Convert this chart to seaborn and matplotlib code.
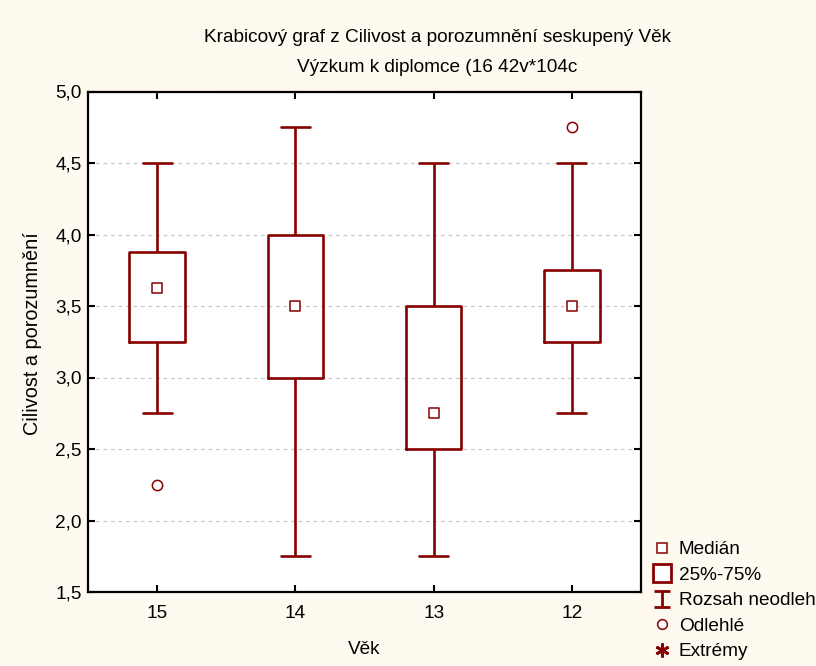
import numpy as np
import pandas as pd
import matplotlib
matplotlib.use("Agg")
import matplotlib.pyplot as plt
from matplotlib.lines import Line2D
from matplotlib.path import Path
import seaborn as sns

# ---- data ----
groups = ["15", "14", "13", "12"]
whisker_low = [2.75, 1.75, 1.75, 2.75]
q1 = [3.25, 3.0, 2.5, 3.25]
median = [3.625, 3.5, 2.75, 3.5]
q3 = [3.875, 4.0, 3.5, 3.75]
whisker_high = [4.5, 4.75, 4.5, 4.5]
outlier_groups = ["15", "12"]
outlier_values = [2.25, 4.75]

title_line1 = "Krabicový graf z Cilivost a porozumnění seskupený Věk"
title_line2 = "Výzkum k diplomce (16 42v*104c"
x_label = "Věk"
y_label = "Cilivost a porozumnění"
y_ticks = [1.5, 2.0, 2.5, 3.0, 3.5, 4.0, 4.5, 5.0]
legend_labels = ["Medián", "25%-75%", "Rozsah neodleh", "Odlehlé", "Extrémy"]

# ---- styling ----
RED = "#860000"
BG = "#FFFAEF"
FS = 13.7
sns.set_theme(style="white")
plt.rcParams["font.family"] = ["Liberation Sans", "DejaVu Sans"]
plt.rcParams["text.color"] = "black"
plt.rcParams["axes.labelcolor"] = "black"
plt.rcParams["xtick.color"] = "black"
plt.rcParams["ytick.color"] = "black"

# long-form five-number summary (each group's 5 values give exactly these quartiles)
rows = []
for g, a, b, c, d, e in zip(groups, whisker_low, q1, median, q3, whisker_high):
    for v in (a, b, c, d, e):
        rows.append({"Věk": g, "val": v})
df = pd.DataFrame(rows)

fig = plt.figure(figsize=(8.16, 6.66), dpi=100, facecolor=BG)
ax = fig.add_axes([88 / 816, 1 - 592 / 666, (641 - 88) / 816, (592 - 91.5) / 666])
ax.set_facecolor("white")

lw = 1.9
sns.boxplot(
    data=df, x="Věk", y="val", order=groups, ax=ax,
    whis=np.inf, width=0.4, fill=False, color=RED, linewidth=lw,
    showfliers=False, capwidths=0.21,
    boxprops=dict(color=RED, linewidth=lw),
    whiskerprops=dict(color=RED, linewidth=lw),
    capprops=dict(color=RED, linewidth=lw),
    medianprops=dict(visible=False),
)

med_df = pd.DataFrame({"Věk": groups, "val": median})
sns.scatterplot(data=med_df, x="Věk", y="val", ax=ax, marker="s", s=48,
                facecolor="white", edgecolor=RED, linewidth=1.1, zorder=5)
out_df = pd.DataFrame({"Věk": outlier_groups, "val": outlier_values})
sns.scatterplot(data=out_df, x="Věk", y="val", ax=ax, marker="o", s=55,
                facecolor="white", edgecolor=RED, linewidth=1.1, zorder=5)

ax.set_xlim(-0.5, 3.5)
ax.set_ylim(1.5, 5.0)
ax.set_yticks(y_ticks)
ax.set_yticklabels([f"{t:.1f}".replace(".", ",") for t in y_ticks])
ax.set_xticks(range(len(groups)))
ax.set_xticklabels(groups)
ax.set_xlabel("")
ax.set_ylabel("")
ax.yaxis.grid(True, color="#C8C8C8", linestyle=(0, (3, 3)), linewidth=0.9)
ax.xaxis.grid(False)
ax.set_axisbelow(True)
for sp in ax.spines.values():
    sp.set_visible(True)
    sp.set_color("black")
    sp.set_linewidth(1.6)
ax.tick_params(axis="both", direction="in", length=5, width=1.5, colors="black",
               labelcolor="black", labelsize=FS, top=True, right=True,
               bottom=True, left=True)
ax.tick_params(axis="y", pad=4.5)
ax.tick_params(axis="x", pad=9)

fig.text(437.5 / 816, 1 - 38 / 666, title_line1, ha="center", va="center", fontsize=FS)
fig.text(437.5 / 816, 1 - 67 / 666, title_line2, ha="center", va="center", fontsize=FS)
fig.text(364 / 816, 1 - 650 / 666, x_label, ha="center", va="center", fontsize=FS)
fig.text(33 / 816, 1 - 334 / 666, y_label, ha="center", va="center", rotation=90,
         fontsize=14.3)

ibeam = Path([(-1, 1), (1, 1), (0, 1), (0, -1), (-1, -1), (1, -1)],
             [Path.MOVETO, Path.LINETO, Path.MOVETO, Path.LINETO, Path.MOVETO, Path.LINETO])
handles = [
    Line2D([], [], linestyle="none", marker="s", markersize=7, markerfacecolor="white",
           markeredgecolor=RED, markeredgewidth=1.1),
    Line2D([], [], linestyle="none", marker="s", markersize=12.5, markerfacecolor="white",
           markeredgecolor=RED, markeredgewidth=2),
    Line2D([], [], linestyle="none", marker=ibeam, markersize=12, markerfacecolor="none",
           markeredgecolor=RED, markeredgewidth=2),
    Line2D([], [], linestyle="none", marker="o", markersize=7, markerfacecolor="white",
           markeredgecolor=RED, markeredgewidth=1.1),
    Line2D([], [], linestyle="none", marker=(6, 2, 0), markersize=10,
           markeredgecolor=RED, markeredgewidth=2),
]
leg = fig.legend(handles, legend_labels, loc="upper left",
                 bbox_to_anchor=(652 / 816, 1 - 541 / 666), frameon=False,
                 fontsize=FS, handlelength=1.0, handletextpad=0.4,
                 labelspacing=0.43, borderpad=0, borderaxespad=0)
for t in leg.get_texts():
    t.set_color("black")

fig.savefig("out.png", dpi=100, facecolor=BG)
